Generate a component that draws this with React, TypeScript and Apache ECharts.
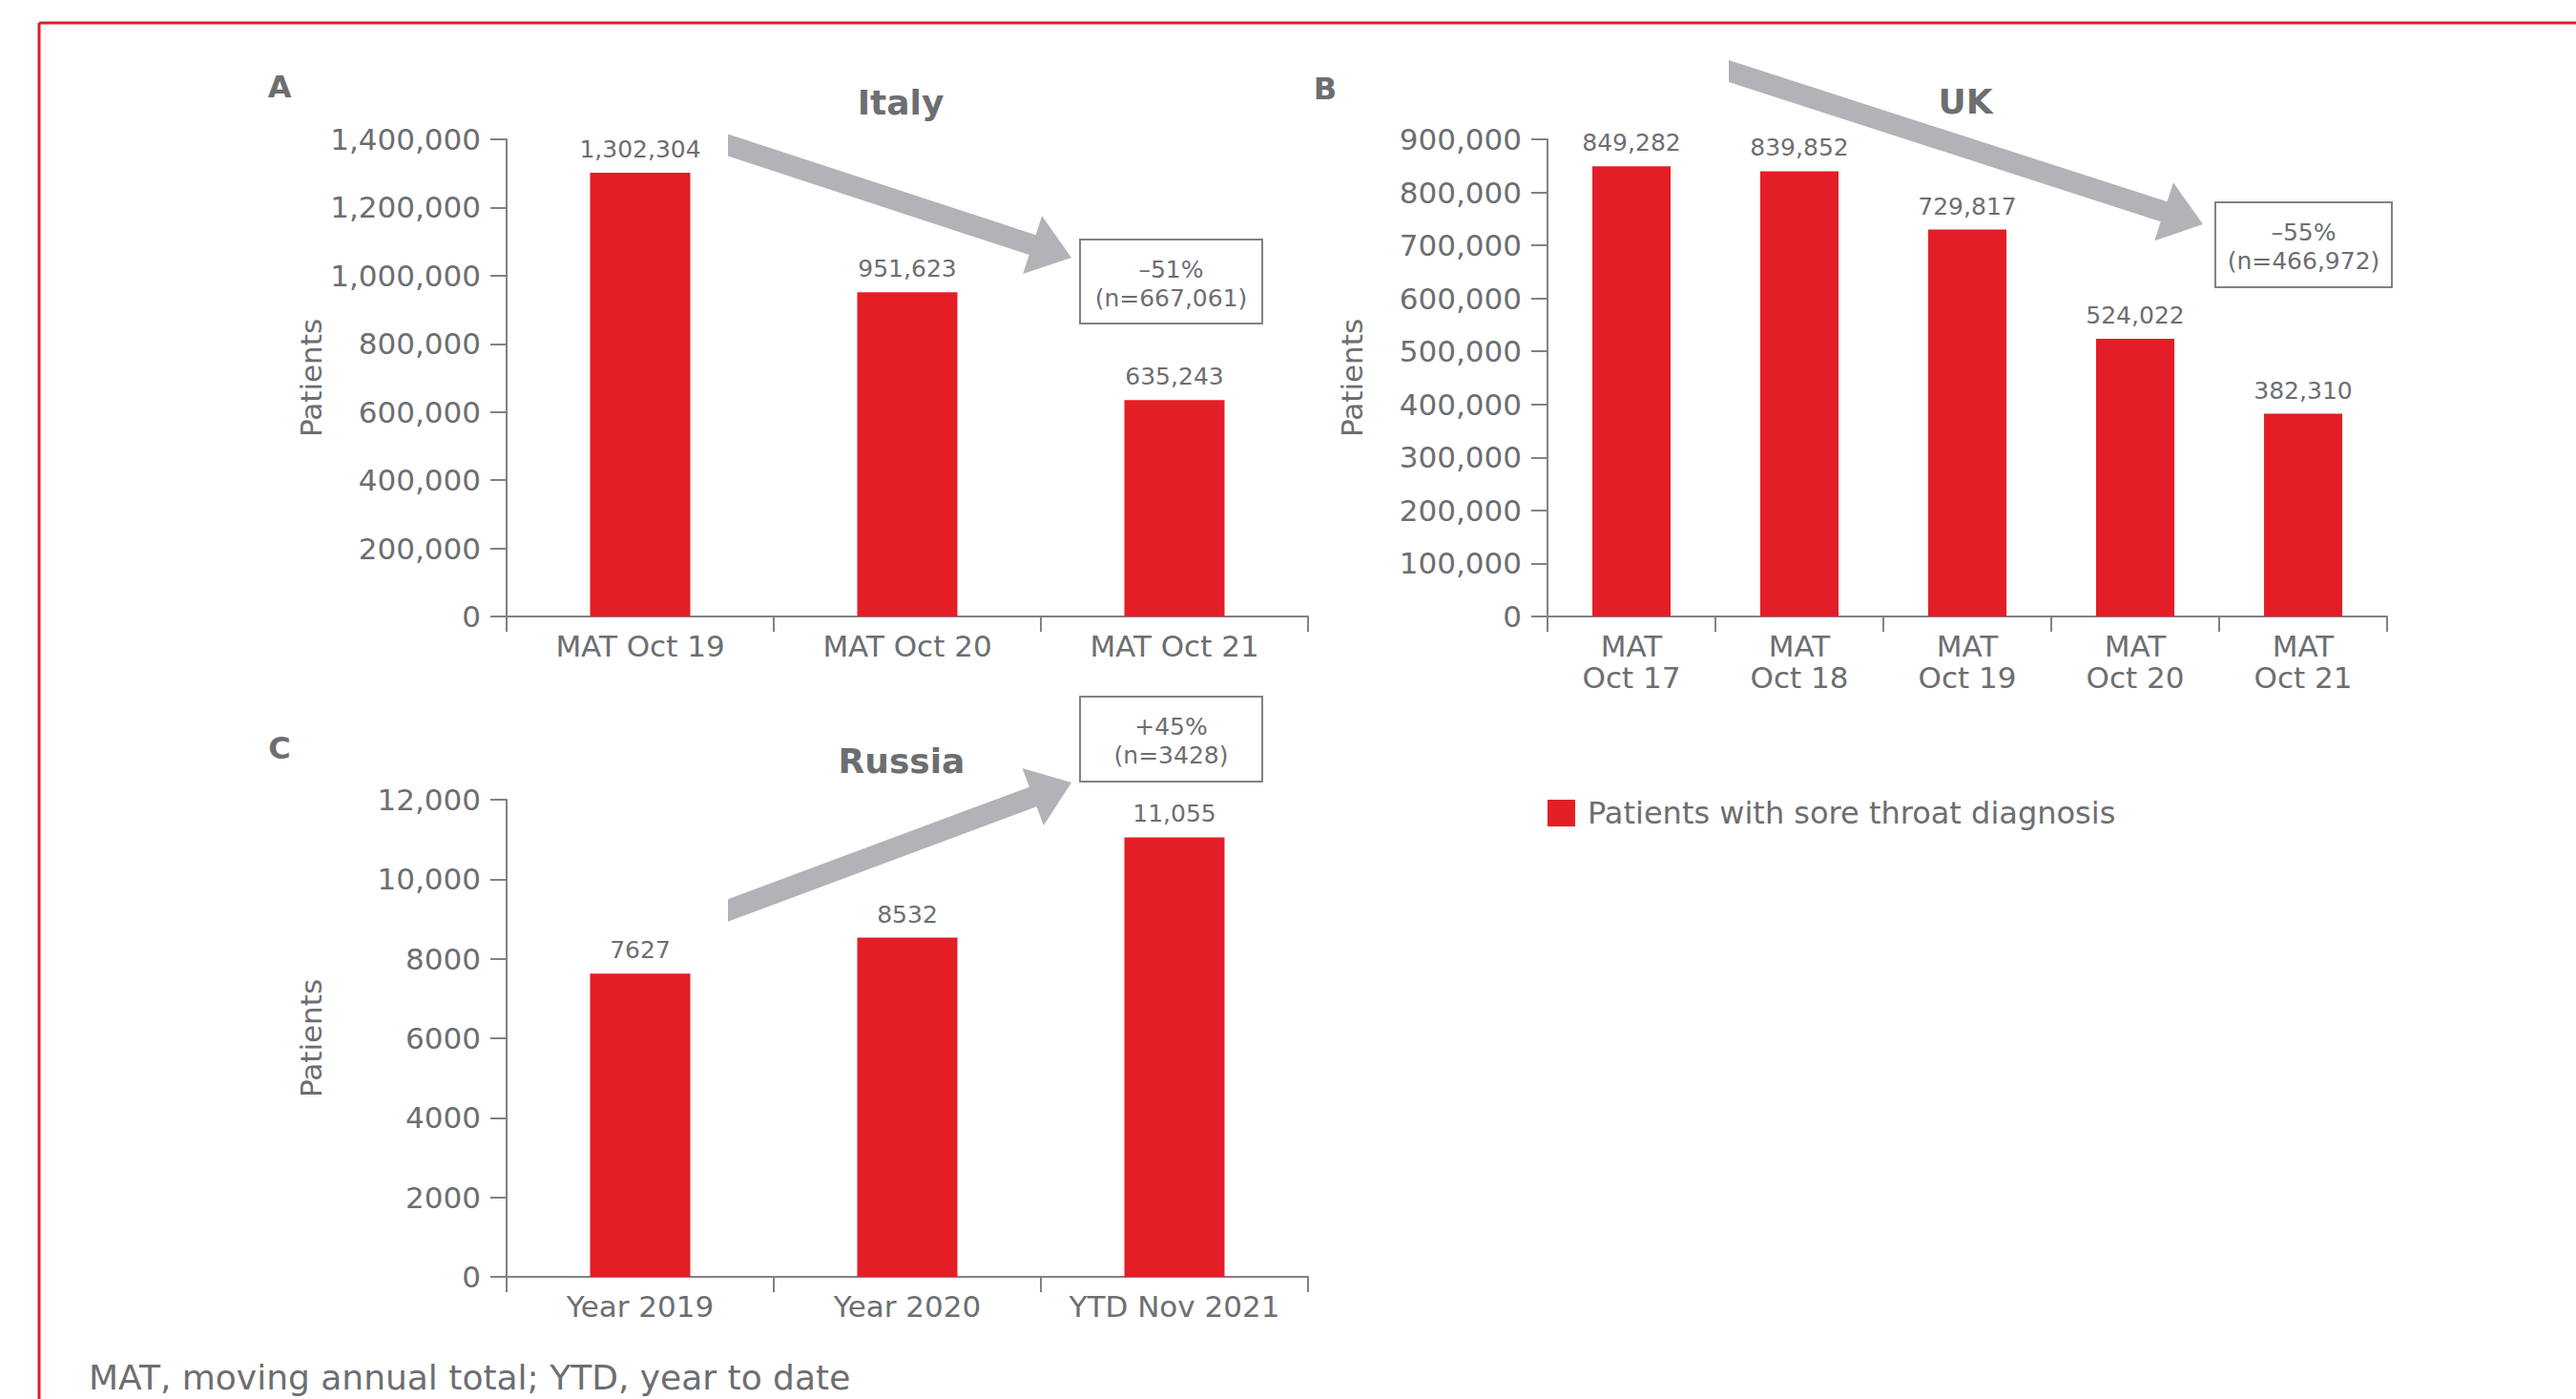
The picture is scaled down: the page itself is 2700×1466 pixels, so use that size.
import React, { useEffect, useRef } from 'react';
import * as echarts from 'echarts';

// ---------- data ----------
const italyCategories = ['MAT Oct 19', 'MAT Oct 20', 'MAT Oct 21'];
const italyPatients = [1302304, 951623, 635243];
const italyTicks = { max: 1400000, interval: 200000 };

const ukCategories = ['MAT Oct 17', 'MAT Oct 18', 'MAT Oct 19', 'MAT Oct 20', 'MAT Oct 21'];
const ukPatients = [849282, 839852, 729817, 524022, 382310];
const ukTicks = { max: 900000, interval: 100000 };

const russiaCategories = ['Year 2019', 'Year 2020', 'YTD Nov 2021'];
const russiaPatients = [7627, 8532, 11055];
const russiaTicks = { max: 12000, interval: 2000 };

const panelLetters = ['A', 'B', 'C'];
const panelTitles = ['Italy', 'UK', 'Russia'];
const changePercent = ['–51%', '–55%', '+45%'];
const changeCount = ['(n=667,061)', '(n=466,972)', '(n=3428)'];

const seriesName = 'Patients with sore throat diagnosis';
const yAxisName = 'Patients';
const footnote = 'MAT, moving annual total; YTD, year to date';

// ---------- style ----------
const FONT = 'DejaVu Sans';
const RED = '#e41e26';
const TEXT = '#6d6e71';
const AXIS = '#808285';
const ARROW = '#b1b3b6';

const fmt = (v: number) => (v >= 10000 ? v.toLocaleString('en-US') : String(v));

function arrowPoints(tx: number, ty: number, px: number, py: number, w = 11, hl = 43, hw = 32) {
  const dx = px - tx;
  const dy = py - ty;
  const L = Math.hypot(dx, dy);
  const ux = dx / L;
  const uy = dy / L;
  const nx = -uy;
  const ny = ux;
  const vh = w / ux;
  const bx = px - hl * ux;
  const by = py - hl * uy;
  return [
    [tx, ty - vh],
    [bx - w * nx, by - w * ny],
    [bx - hw * nx, by - hw * ny],
    [px, py],
    [bx + hw * nx, by + hw * ny],
    [bx + w * nx, by + w * ny],
    [tx, ty + vh],
  ];
}

function text(x: number, y: number, t: string, fontSize: number, bold = false, align = 'center') {
  return {
    type: 'text',
    x,
    y,
    style: {
      text: t,
      fill: TEXT,
      fontFamily: FONT,
      fontSize,
      fontWeight: bold ? 'bold' : 'normal',
      align,
      verticalAlign: 'middle',
      textAlign: align,
      textVerticalAlign: 'middle',
    },
  };
}

function yAxis(gridIndex: number, max: number, interval: number) {
  return {
    type: 'value',
    gridIndex,
    min: 0,
    max,
    interval,
    name: yAxisName,
    nameLocation: 'middle',
    nameGap: 190,
    nameTextStyle: { fontSize: 31, color: TEXT, fontFamily: FONT },
    axisLine: { show: true, lineStyle: { color: AXIS, width: 2 } },
    axisTick: { show: true, length: 17, lineStyle: { color: AXIS, width: 2 } },
    splitLine: { show: false },
    axisLabel: { fontSize: 31, color: TEXT, fontFamily: FONT, margin: 27, formatter: (v: number) => fmt(v) },
  };
}

function xAxis(gridIndex: number, data: string[], twoLine: boolean) {
  return {
    type: 'category',
    gridIndex,
    data,
    axisLine: { show: true, lineStyle: { color: AXIS, width: 2 } },
    axisTick: { show: true, length: 16, alignWithLabel: false, lineStyle: { color: AXIS, width: 2 } },
    splitLine: { show: false },
    axisLabel: {
      fontSize: 31,
      color: TEXT,
      fontFamily: FONT,
      margin: 14,
      interval: 0,
      lineHeight: 33,
      formatter: (v: string) => (twoLine ? v.replace('MAT ', 'MAT\n') : v),
    },
  };
}

function bars(i: number, data: number[], barWidth: number) {
  return {
    type: 'bar',
    name: seriesName,
    xAxisIndex: i,
    yAxisIndex: i,
    data,
    barWidth,
    itemStyle: { color: RED },
    label: {
      show: true,
      position: 'top',
      distance: 12,
      fontSize: 25,
      color: TEXT,
      fontFamily: FONT,
      formatter: (p: any) => fmt(p.value),
    },
  };
}

export default function App() {
  const ref = useRef<HTMLDivElement>(null);
  useEffect(() => {
    if (!ref.current) return;
    const chart = echarts.init(ref.current, null, { renderer: 'svg' });

    const boxes = [
      { x: 1132, y: 251, w: 191, h: 88 },
      { x: 2322, y: 212, w: 185, h: 89 },
      { x: 1132, y: 730, w: 191, h: 89 },
    ];
    const arrows = [
      arrowPoints(763, 152, 1123, 270),
      arrowPoints(1812, 74.5, 2309, 235),
      arrowPoints(763, 954, 1123, 820),
    ];
    const letterPos = [
      [293, 91],
      [1389, 93],
      [293, 784],
    ];
    const titlePos = [
      [944, 107],
      [2060, 106],
      [945, 797],
    ];

    const graphic: any[] = [
      { type: 'line', shape: { x1: 41, y1: 24, x2: 2700, y2: 24 }, style: { stroke: RED, lineWidth: 3 } },
      { type: 'line', shape: { x1: 41, y1: 24, x2: 41, y2: 1466 }, style: { stroke: RED, lineWidth: 3 } },
    ];
    arrows.forEach((pts) => graphic.push({ type: 'polygon', shape: { points: pts }, style: { fill: ARROW } }));
    boxes.forEach((b, i) => {
      graphic.push({
        type: 'rect',
        shape: { x: b.x, y: b.y, width: b.w, height: b.h },
        style: { fill: '#ffffff', stroke: AXIS, lineWidth: 2 },
      });
      const cx = b.x + b.w / 2;
      graphic.push(text(cx, b.y + 31, changePercent[i], 25));
      graphic.push(text(cx, b.y + 61, changeCount[i], 25));
    });
    panelLetters.forEach((l, i) => graphic.push(text(letterPos[i][0], letterPos[i][1], l, 32, true)));
    panelTitles.forEach((t, i) => graphic.push(text(titlePos[i][0], titlePos[i][1], t, 36, true)));
    graphic.push(text(93, 1443, footnote, 36, false, 'left'));

    const option: any = {
      animation: false,
      backgroundColor: '#ffffff',
      textStyle: { fontFamily: FONT },
      legend: {
        data: [seriesName],
        left: 1617,
        top: 831,
        itemWidth: 29,
        itemHeight: 28,
        icon: 'rect',
        textStyle: { fontSize: 32, color: TEXT, fontFamily: FONT, padding: [0, 0, 0, 8] },
      },
      grid: [
        { left: 531, top: 146, width: 840, height: 500, containLabel: false, outerBoundsMode: 'none' },
        { left: 1622, top: 146, width: 880, height: 500, containLabel: false, outerBoundsMode: 'none' },
        { left: 531, top: 838, width: 840, height: 500, containLabel: false, outerBoundsMode: 'none' },
      ],
      xAxis: [xAxis(0, italyCategories, false), xAxis(1, ukCategories, true), xAxis(2, russiaCategories, false)],
      yAxis: [
        yAxis(0, italyTicks.max, italyTicks.interval),
        yAxis(1, ukTicks.max, ukTicks.interval),
        yAxis(2, russiaTicks.max, russiaTicks.interval),
      ],
      series: [bars(0, italyPatients, 105), bars(1, ukPatients, 82), bars(2, russiaPatients, 105)],
      graphic,
    };
    chart.setOption(option);
    return () => chart.dispose();
  }, []);

  return <div ref={ref} style={{ position: 'fixed', left: 0, top: 0, width: 2700, height: 1466, background: '#fff' }} />;
}
